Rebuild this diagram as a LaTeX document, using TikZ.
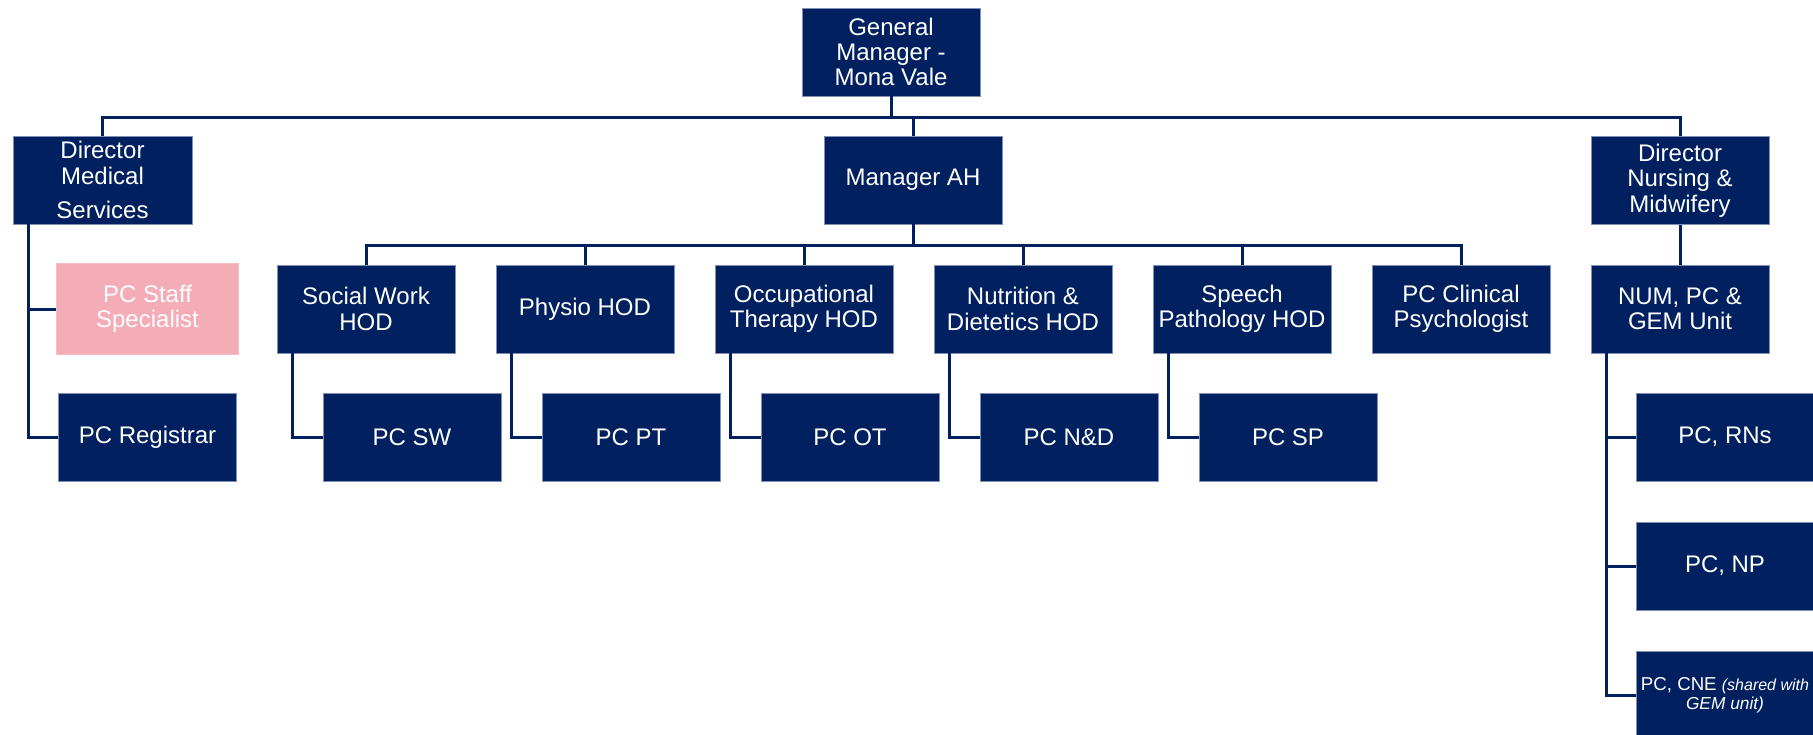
\documentclass[tikz,border=0pt]{standalone}
\usepackage{fontspec}
\setmainfont{Liberation Sans}
\definecolor{navy}{HTML}{002060}
\definecolor{rose}{HTML}{F4ACB7}
\definecolor{edge}{HTML}{7F8FB5}
\begin{document}
\begin{tikzpicture}[x=0.75pt,y=-0.75pt,
  box/.style={fill=navy, draw=edge, line width=0.5pt, text=white,
    minimum width=133.5pt, minimum height=66pt, inner sep=0pt,
    align=center, font=\fontsize{18}{19}\selectfont},
  pinkbox/.style={box, fill=rose, draw=rose!80!white,
    minimum width=136.5pt, minimum height=68.5pt},
  link/.style={draw=navy, line width=2.25pt}]
\useasboundingbox (0,0) rectangle (1813,735);

% top level
\node[box] (gm) at (891,52) {General\\Manager -\\Mona Vale};

% second level
\node[box, minimum width=134pt] (dms) at (102.5,180) {Director\\Medical\\[6.5pt]Services};
\node[box] (mah) at (913,180) {Manager AH};
\node[box] (dnm) at (1680,180.5) {Director\\Nursing \&\\Midwifery};

% medical services
\node[pinkbox] (pcss) at (147.5,309) {PC Staff\\Specialist};
\node[box] (pcreg) at (147.5,437) {PC Registrar};

% allied health heads of department
\node[box] (sw)  at (366,309)  {Social Work\\HOD};
\node[box] (pt)  at (585,309)  {Physio HOD};
\node[box] (ot)  at (804,309)  {Occupational\\Therapy HOD};
\node[box] (nd)  at (1023,309) {Nutrition \&\\Dietetics HOD};
\node[box] (sp)  at (1242,309) {Speech\\Pathology HOD};
\node[box] (psy) at (1461,309) {PC Clinical\\Psychologist};

% allied health palliative care staff
\node[box] (pcsw) at (412,437)  {PC SW};
\node[box] (pcpt) at (631,437)  {PC PT};
\node[box] (pcot) at (850,437)  {PC OT};
\node[box] (pcnd) at (1069,437) {PC N\&D};
\node[box] (pcsp) at (1288,437) {PC SP};

% nursing
\node[box] (num) at (1680,309) {NUM, PC \&\\GEM Unit};
\node[box] (rns) at (1725,437) {PC, RNs};
\node[box] (np)  at (1725,566) {PC, NP};
\node[box, font=\fontsize{14}{14.5}\selectfont] (cne) at (1725,695)
  {PC, CNE {\itshape\fontsize{12}{14.5}\selectfont(shared with}\\{\itshape\fontsize{13}{14.5}\selectfont GEM unit)}};

% bus lines
\coordinate (bus1) at (0,117);
\coordinate (bus2) at (0,245);

\draw[link] (gm.south) -- (gm.south |- bus1);
\draw[link] (dms.north) -- (dms.north |- bus1) -- (dnm.north |- bus1) -- (dnm.north);
\draw[link] (mah.north) -- (mah.north |- bus1);

\draw[link] (mah.south) -- (mah.south |- bus2);
\draw[link] (sw.north) -- (sw.north |- bus2) -- (psy.north |- bus2) -- (psy.north);
\foreach \n in {pt,ot,nd,sp}
  \draw[link] (\n.north) -- (\n.north |- bus2);

% elbow connectors to subordinate boxes
\coordinate (dmsv) at ([xshift=12pt]dms.south west);
\draw[link] (dmsv) |- (pcreg.west);
\draw[link] (dmsv |- pcss.west) -- (pcss.west);

\draw[link] ([xshift=12pt]sw.south west) |- (pcsw.west);
\draw[link] ([xshift=12pt]pt.south west) |- (pcpt.west);
\draw[link] ([xshift=12pt]ot.south west) |- (pcot.west);
\draw[link] ([xshift=12pt]nd.south west) |- (pcnd.west);
\draw[link] ([xshift=12pt]sp.south west) |- (pcsp.west);

\draw[link] (dnm.south) -- (num.north);
\coordinate (numv) at ([xshift=12pt]num.south west);
\draw[link] (numv) |- (cne.west);
\draw[link] (numv |- rns.west) -- (rns.west);
\draw[link] (numv |- np.west) -- (np.west);
\end{tikzpicture}
\end{document}
